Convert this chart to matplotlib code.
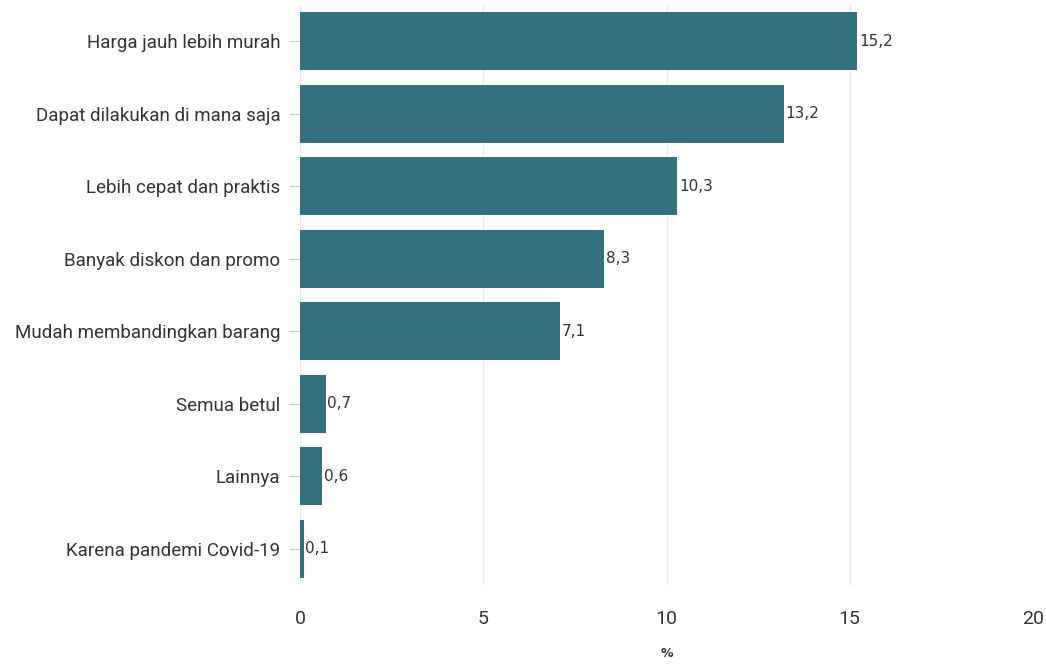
import matplotlib.pyplot as plt

categories = ["Harga jauh lebih murah", "Dapat dilakukan di mana saja",
              "Lebih cepat dan praktis", "Banyak diskon dan promo",
              "Mudah membandingkan barang", "Semua betul", "Lainnya",
              "Karena pandemi Covid-19"]
values = [15.2, 13.2, 10.3, 8.3, 7.1, 0.7, 0.6, 0.1]
xticks = [0, 5, 10, 15, 20]

fig = plt.figure(figsize=(10.46, 6.66), dpi=100)
ax = fig.add_axes([300 / 1046, 81 / 666, 733 / 1046, 580 / 666])

pos = list(range(len(categories)))
ax.barh(pos, values, height=0.8, color="#34717f", zorder=2)
for p, v in zip(pos, values):
    ax.text(v + 0.05, p, ("%.1f" % v).replace(".", ","), va="center", ha="left",
            fontsize=11, color="#333333", family="DejaVu Sans")

ax.set_ylim(len(categories) - 0.5, -0.5)
ax.set_xlim(0, 20)
ax.set_yticks(pos)
ax.set_yticklabels(categories, fontsize=13.5, color="#333333", family="Roboto")
ax.set_xticks(xticks)
ax.set_xticklabels([str(t) for t in xticks], fontsize=14, color="#333333", family="Roboto")
ax.tick_params(axis="y", length=8, color="#cccccc", pad=6)
ax.tick_params(axis="x", length=0, pad=18)
ax.grid(axis="x", color="#ebebeb", linewidth=1, zorder=0)
for s in ax.spines.values():
    s.set_visible(False)
ax.set_xlabel("%", fontsize=9, fontweight="bold", color="#333333", labelpad=14)

fig.savefig("out.png", dpi=100)
